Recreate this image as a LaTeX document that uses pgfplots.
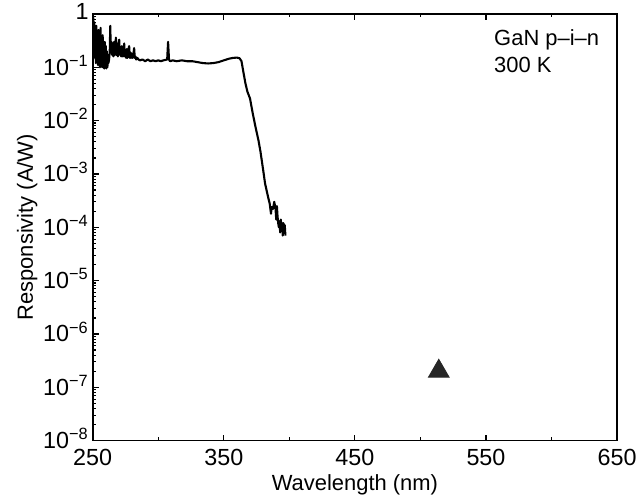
\documentclass[border=0pt]{standalone}
\usepackage{fontspec}
\setmainfont{Liberation Sans}
\usepackage{pgfplots}
\pgfplotsset{compat=1.18}
\begin{document}
\begin{tikzpicture}
\begin{axis}[
  scale only axis,
  width=263pt, height=214pt,
  xmin=250, xmax=650,
  ymode=log, ymin=1e-8, ymax=1,
  xtick={250,350,450,550,650},
  minor xtick={300,400,500,600},
  ytick={1e-8,1e-7,1e-6,1e-5,1e-4,1e-3,1e-2,1e-1,1},
  yticklabels={10\textsuperscript{−8},10\textsuperscript{−7},10\textsuperscript{−6},10\textsuperscript{−5},10\textsuperscript{−4},10\textsuperscript{−3},10\textsuperscript{−2},10\textsuperscript{−1},1},
  /pgf/number format/assume math mode=true,
  xtick pos=both, ytick pos=left,
  tick align=inside,
  major tick length=3pt, minor tick length=1.6pt,
  every tick/.style={black, line width=0.6pt},
  axis line style={line width=0.8pt},
  tick label style={font=\fontsize{11.7}{14}\selectfont},
  xticklabel style={yshift=-1pt},
  yticklabel style={xshift=1.5pt, yshift=1pt},
  xlabel={Wavelength (nm)},
  ylabel={Responsivity (A/W)},
  label style={font=\fontsize{11}{13}\selectfont},
  xlabel style={yshift=2.5pt},
  ylabel style={yshift=-4pt},
]
\addplot[black, line width=1.05pt, mark=none, line join=round] coordinates {
(250,0.3) (250.4,0.85) (250.8,0.2) (251.2,0.7) (251.6,0.15) (252,0.5) (252.4,0.12) (252.8,0.6)
(253.2,0.14) (253.6,0.45) (254,0.11) (254.4,0.5) (254.8,0.13) (255.2,0.4) (255.6,0.1) (256,0.55)
(256.4,0.12) (256.8,0.35) (257.2,0.1) (257.6,0.4) (258,0.11) (258.4,0.3) (258.8,0.095) (259.2,0.3)
(259.6,0.1) (260,0.25) (260.4,0.095) (260.8,0.2) (261.2,0.1) (261.6,0.15) (262,0.12) (262.5,0.14)
(263,0.2) (263.4,0.6) (263.8,0.2) (264.3,0.3) (264.8,0.17) (265.3,0.28) (265.8,0.16) (266.3,0.3)
(266.8,0.17) (267.3,0.25) (267.7,0.36) (268.2,0.17) (268.7,0.28) (269.2,0.16) (269.7,0.26) (270.2,0.33)
(270.7,0.17) (271.2,0.24) (271.7,0.16) (272.2,0.25) (272.7,0.16) (273.2,0.22) (273.7,0.16) (274,0.28)
(274.5,0.16) (275,0.2) (275.5,0.15) (276,0.22) (276.5,0.15) (277,0.2) (277.8,0.25) (278.3,0.15)
(278.8,0.19) (279.3,0.15) (280,0.18) (280.5,0.15) (281,0.17) (281.6,0.23) (282.1,0.15) (282.6,0.16)
(283.2,0.14) (284,0.15) (285,0.14) (286,0.135) (288,0.14) (290,0.13) (292,0.14) (294,0.13)
(296,0.135) (298,0.13) (300,0.135) (302,0.13) (304,0.135) (306.8,0.14) (307.5,0.3) (308.2,0.14)
(309,0.13) (311,0.135) (314,0.13) (318,0.135) (322,0.13) (326,0.13) (330,0.125) (334,0.12)
(338,0.118) (342,0.12) (346,0.125) (350,0.135) (354,0.145) (357,0.15) (360,0.152) (362,0.148)
(363.5,0.13) (365,0.08) (366.5,0.05) (368,0.035) (370,0.026) (372,0.014) (374,0.008)
(376.5,0.0042) (378,0.0026) (380,0.0012) (381.5,0.00066) (383,0.00045) (384,0.00035)
(385,0.00028) (386,0.00018) (386.5,0.00024) (387.5,0.00022) (388.5,0.0003) (389.5,0.00022)
(390,0.00014) (390.5,0.00025) (391,0.00016) (391.5,0.00012) (392,0.0001) (392.5,0.00013)
(393,0.00008) (393.5,0.00014) (394,0.00009) (394.5,0.00012) (395,0.00007) (395.5,0.00012)
(396,0.00008) (396.5,0.00011) (397,0.00007)
};
\addplot[only marks, mark=triangle*, mark size=6pt, mark options={fill=black!85, draw=black!85}] coordinates {(514,2e-7)};
\node[anchor=north west, align=left, font=\fontsize{11}{13.5}\selectfont, inner sep=0pt] at (rel axis cs:0.765,0.965) {GaN p--i--n\\300 K};
\end{axis}
\pgfresetboundingbox
\path ([xshift=-46.5pt,yshift=-28.5pt]current axis.south west) rectangle ([xshift=10.5pt,yshift=7pt]current axis.north east);
\end{tikzpicture}
\end{document}
